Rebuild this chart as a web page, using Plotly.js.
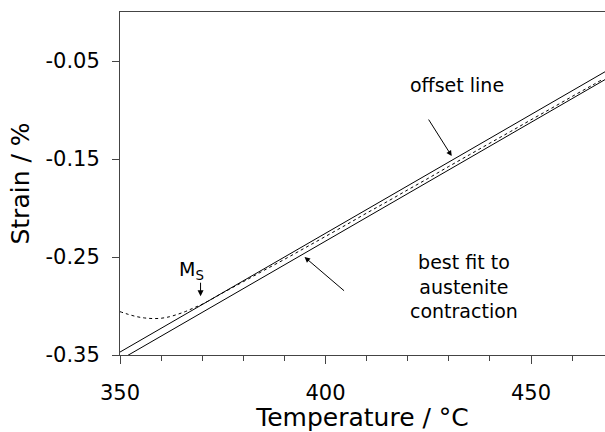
<!DOCTYPE html>
<html>
<head>
<meta charset="utf-8">
<script src="https://cdn.plot.ly/plotly-3.0.1.min.js"></script>
<style>html,body{margin:0;padding:0;background:#fff;}#chart{width:605px;height:432px;}</style>
</head>
<body>
<div id="chart"></div>
<script>
// Measured strain (dotted curve)
const dataT = [350, 352, 354, 356, 358, 360, 362, 364, 366, 368, 370, 375, 380, 385, 390, 395, 400, 405, 410, 415, 420, 425, 430, 435, 440, 445, 450, 455, 460, 465, 467];
const dataStrain = [-0.3058, -0.3085, -0.3108, -0.3122, -0.3128, -0.3125, -0.3110, -0.3085, -0.3055, -0.3018, -0.2982, -0.2866, -0.2752, -0.2637, -0.2524, -0.2407, -0.2290, -0.2172, -0.2052, -0.1935, -0.1815, -0.1697, -0.1576, -0.1457, -0.1338, -0.1220, -0.1100, -0.0982, -0.0862, -0.0745, -0.0697];
// Offset line (upper solid)
const offsetT = [350, 468];
const offsetStrain = [-0.347, -0.061];
// Best fit to austenite contraction (lower solid)
const fitT = [350, 468];
const fitStrain = [-0.355, -0.069];
// Axis ticks
const yTickVals = [-0.35, -0.25, -0.15, -0.05];
const yTickText = ["-0.35", "-0.25", "-0.15", "-0.05"];
const xTickVals = [350, 400, 450];
const xTickText = ["350", "400", "450"];

const font = "DejaVu Sans, sans-serif";

const traces = [
  {x: offsetT, y: offsetStrain, mode: 'lines', line: {color: '#000', width: 1}, hoverinfo: 'skip'},
  {x: fitT, y: fitStrain, mode: 'lines', line: {color: '#000', width: 1}, hoverinfo: 'skip'},
  {x: dataT, y: dataStrain, mode: 'lines', line: {color: '#000', width: 1, dash: 'dot', shape: 'spline'}, hoverinfo: 'skip'}
];

const layout = {
  width: 605, height: 432,
  margin: {l: 119.5, r: 0, t: 12, b: 77},
  paper_bgcolor: '#fff', plot_bgcolor: '#fff',
  showlegend: false,
  font: {family: font, color: '#000'},
  xaxis: {
    range: [350, 468], tickvals: xTickVals, ticktext: xTickText,
    ticks: 'outside', ticklen: 8, tickcolor: '#444', tickwidth: 1,
    minor: {dtick: 10, ticks: 'outside', ticklen: 5, tickcolor: '#444', showgrid: false},
    showline: true, linecolor: '#444', linewidth: 1, mirror: true,
    showgrid: false, zeroline: false,
    tickfont: {size: 21, family: font, color: '#000'},
    ticklabelstandoff: 11,
    title: {text: 'Temperature / °C', font: {size: 25, family: font, color: '#000'}, standoff: 0}
  },
  yaxis: {
    range: [-0.35, 0], tickvals: yTickVals, ticktext: yTickText,
    ticks: 'outside', ticklen: 7, tickcolor: '#444', tickwidth: 1,
    showline: true, linecolor: '#444', linewidth: 1, mirror: false,
    showgrid: false, zeroline: false,
    tickfont: {size: 21, family: font, color: '#000'},
    ticklabelstandoff: 8,
    title: {text: 'Strain / %', font: {size: 25, family: font, color: '#000'}, standoff: 8}
  },
  annotations: [
    {x: 432.1, y: -0.0745, xref: 'x', yref: 'y', text: 'offset line', showarrow: false, font: {size: 19, family: font, color: '#000'}},
    {x: 430.7, y: -0.147, xref: 'x', yref: 'y', text: '', showarrow: true, arrowhead: 2, arrowsize: 1.1, arrowwidth: 1, arrowcolor: '#000', ax: -24, ay: -38},
    {x: 433.8, y: -0.2796, xref: 'x', yref: 'y', text: 'best fit to<br>austenite<br>contraction', showarrow: false, align: 'center', font: {size: 19, family: font, color: '#000'}},
    {x: 394.9, y: -0.250, xref: 'x', yref: 'y', text: '', showarrow: true, arrowhead: 2, arrowsize: 1.1, arrowwidth: 1, arrowcolor: '#000', ax: 41, ay: 35},
    {x: 367.5, y: -0.2635, xref: 'x', yref: 'y', text: 'M<sub>S</sub>', showarrow: false, font: {size: 19, family: font, color: '#000'}},
    {x: 369.6, y: -0.290, xref: 'x', yref: 'y', text: '', showarrow: true, arrowhead: 2, arrowsize: 1.2, arrowwidth: 1, arrowcolor: '#000', ax: 0, ay: -15}
  ]
};

Plotly.newPlot('chart', traces, layout, {staticPlot: true, displayModeBar: false});
</script>
</body>
</html>
